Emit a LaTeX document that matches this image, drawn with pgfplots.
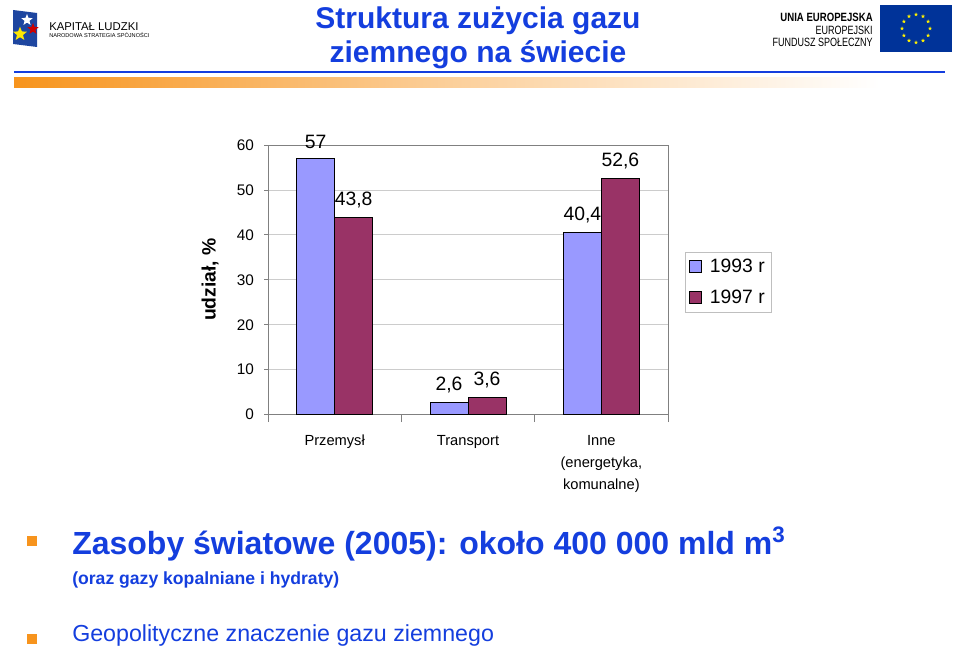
\documentclass[border=0pt]{standalone}
\usepackage{fontspec}
\setmainfont{Liberation Sans}
\usepackage{pgfplots}
\pgfplotsset{compat=1.18}
\usetikzlibrary{shapes.geometric,calc}
\definecolor{bar93}{RGB}{153,153,255}
\definecolor{bar97}{RGB}{153,51,102}
\definecolor{slideblue}{RGB}{20,62,222}
\definecolor{bulletorange}{RGB}{247,148,29}
\definecolor{eublue}{RGB}{0,51,153}
\definecolor{klblue}{RGB}{30,70,160}
\tikzset{estar/.style={star, star points=5, star point ratio=2.4, fill=yellow, inner sep=0pt, minimum size=3.2pt}}

\begin{document}
\begin{tikzpicture}
\useasboundingbox (0,0) rectangle (719.25pt,487.5pt);

% slide decoration in pixel coordinates (origin top left)
\begin{scope}[shift={(0pt,487.5pt)}, x=0.75pt, y=-0.75pt]
  % header line and gradient strip
  \draw[slideblue, line width=1.4pt] (14,72) -- (945,72);
  \shade[left color=bulletorange, right color=white, middle color=bulletorange!45] (14,78) rectangle (880,88);
  % title
  \node[font=\fontsize{22.5}{26}\selectfont\bfseries, text=slideblue] at (478,21) {Struktura zużycia gazu};
  \node[font=\fontsize{22.5}{26}\selectfont\bfseries, text=slideblue] at (478,55) {ziemnego na świecie};
  % Kapitał Ludzki logo
  \fill[klblue] (13,10) -- (37,13) -- (37,47) -- (13,44) -- cycle;
  \node[star, star points=5, star point ratio=2.3, fill=white, inner sep=0pt, minimum size=9pt] at (27,20) {};
  \node[star, star points=5, star point ratio=2.3, fill=yellow!90!orange, inner sep=0pt, minimum size=11pt] at (20,34) {};
  \node[star, star points=5, star point ratio=2.3, fill=red!80!black, inner sep=0pt, minimum size=9pt] at (33,29) {};
  \node[anchor=west, inner sep=0pt, font=\fontsize{8.5}{10}\selectfont] at (49,27) {KAPITAŁ LUDZKI};
  \node[anchor=west, inner sep=0pt, font=\fontsize{4.2}{5}\selectfont] at (49,35.5) {NARODOWA STRATEGIA SPÓJNOŚCI};
  % EU logo
  \node[anchor=east, inner sep=0pt, font=\fontsize{9}{10}\selectfont\bfseries] at (873,17) {\scalebox{0.8}[1]{UNIA EUROPEJSKA}};
  \node[anchor=east, inner sep=0pt, font=\fontsize{9}{10}\selectfont] at (873,30) {\scalebox{0.75}[1]{EUROPEJSKI}};
  \node[anchor=east, inner sep=0pt, font=\fontsize{9}{10}\selectfont] at (873,42) {\scalebox{0.75}[1]{FUNDUSZ SPOŁECZNY}};
  \fill[eublue] (880,5) rectangle (952,52);
  \foreach \a in {0,30,...,330} \node[estar] at ($(916,28.5)+(\a:14)$) {};
  % bullets and text
  \fill[bulletorange] (27,536) rectangle (37,546);
  \node[anchor=west, inner sep=0pt, font=\fontsize{24}{28}\selectfont\bfseries, text=slideblue] at (72,544) {Zasoby światowe (2005): około 400 000 mld m\textsuperscript{3}};
  \node[anchor=west, inner sep=0pt, font=\fontsize{13.2}{15}\selectfont\bfseries, text=slideblue] at (72,580) {(oraz gazy kopalniane i hydraty)};
  \fill[bulletorange] (27,634) rectangle (37,644);
  \node[anchor=west, inner sep=0pt, font=\fontsize{17.4}{20}\selectfont, text=slideblue] at (72,635) {Geopolityczne znaczenie gazu ziemnego};
\end{scope}

\begin{axis}[
  at={(201pt,177pt)}, anchor=south west,
  scale only axis, width=300pt, height=201.75pt,
  ybar=0pt, bar width=0.285,
  xmin=-0.5, xmax=2.5, ymin=0, ymax=60,
  xtick={0,1,2},
  xticklabels={Przemysł, Transport, {Inne\\(energetyka,\\komunalne)}},
  minor xtick={-0.5,0.5,1.5,2.5},
  ytick={0,10,...,60},
  tick pos=left, tick align=outside,
  major x tick style={draw=none},
  minor tick length=6pt, major tick length=3pt,
  every tick/.style={gray},
  axis line style={gray},
  ymajorgrids, grid style={gray!40},
  /pgf/number format/assume math mode=true,
  /pgf/number format/use comma,
  tick label style={font=\fontsize{11.5}{14}\selectfont},
  yticklabel style={xshift=-4pt, yshift=-1.5pt},
  typeset ticklabels with strut,
  xticklabel style={align=center, font=\fontsize{11}{16.5}\selectfont, yshift=-5.5pt},
  ylabel={udział, \%},
  ylabel style={font=\fontsize{14.5}{16}\selectfont\bfseries, at={(rel axis cs:-0.145,0.5)}, anchor=center},
  nodes near coords,
  every node near coord/.append style={font=\fontsize{14.5}{16}\selectfont, yshift=3.5pt, text=black},
  legend style={at={(1.0425,0.49)}, anchor=west, draw=gray!50, font=\fontsize{14.5}{16}\selectfont, row sep=7.5pt, column sep=4pt, inner sep=3pt},
  legend cell align=left,
  legend image code/.code={\draw[#1, draw=black, line width=0.5pt] (0pt,-4.5pt) rectangle (9pt,4.5pt);},
]
\addplot[fill=bar93, draw=black, line width=0.7pt] coordinates {(0,57) (1,2.6) (2,40.4)};
\addlegendentry{1993 r}
\addplot[fill=bar97, draw=black, line width=0.7pt] coordinates {(0,43.8) (1,3.6) (2,52.6)};
\addlegendentry{1997 r}
\end{axis}
\end{tikzpicture}
\end{document}
